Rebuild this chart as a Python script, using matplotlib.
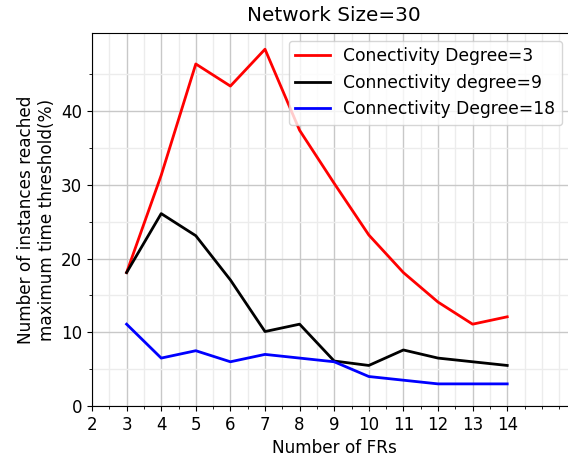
import matplotlib
matplotlib.use("Agg")
import matplotlib.pyplot as plt
from matplotlib.ticker import MultipleLocator, FixedLocator

frs = [3, 4, 5, 6, 7, 8, 9, 10, 11, 12, 13, 14]
deg3 = [18.1, 31.3, 46.4, 43.4, 48.4, 37.4, 30.2, 23.2, 18.1, 14.1, 11.1, 12.1]
deg9 = [18.1, 26.1, 23.1, 17.1, 10.1, 11.1, 6.1, 5.5, 7.6, 6.5, 6.0, 5.5]
deg18 = [11.1, 6.5, 7.5, 6.0, 7.0, 6.5, 6.0, 4.0, 3.5, 3.0, 3.0, 3.0]
labels = ["Conectivity Degree=3", "Connectivity degree=9", "Connectivity Degree=18"]
yticks = [0, 10, 20, 30, 40]
xticks = [2, 3, 4, 5, 6, 7, 8, 9, 10, 11, 12, 13, 14]

fig = plt.figure(figsize=(5.68, 4.62), dpi=100)
ax = fig.add_axes([92/568, 56/462, (14*34.6)/568, 373/462])

ax.plot(frs, deg3, color="red", lw=2, label=labels[0])
ax.plot(frs, deg9, color="black", lw=2, label=labels[1])
ax.plot(frs, deg18, color="blue", lw=2, label=labels[2])

ax.set_xlim(2, 16)
ax.set_ylim(0, 50.6)
ax.set_xticks(xticks)
ax.xaxis.set_minor_locator(MultipleLocator(0.5))
ax.set_yticks(yticks)
ax.yaxis.set_minor_locator(FixedLocator([5, 15, 25, 35, 45]))
ax.grid(which="major", color="#c8c8c8", lw=1)
ax.grid(which="minor", color="#ececec", lw=1)
ax.set_axisbelow(True)
ax.tick_params(labelsize=12)
ax.set_xlabel("Number of FRs", fontsize=12.2)
ax.set_ylabel("Number of instances reached\nmaximum time threshold(%)", fontsize=12.2)
ax.set_title("Network Size=30", fontsize=14.4, pad=8.6)
ax.legend(loc="upper right", bbox_to_anchor=(562/568, 1 - 40.5/462), bbox_transform=fig.transFigure,
          fontsize=12.3, borderaxespad=0)

fig.savefig("out.png", dpi=100)
